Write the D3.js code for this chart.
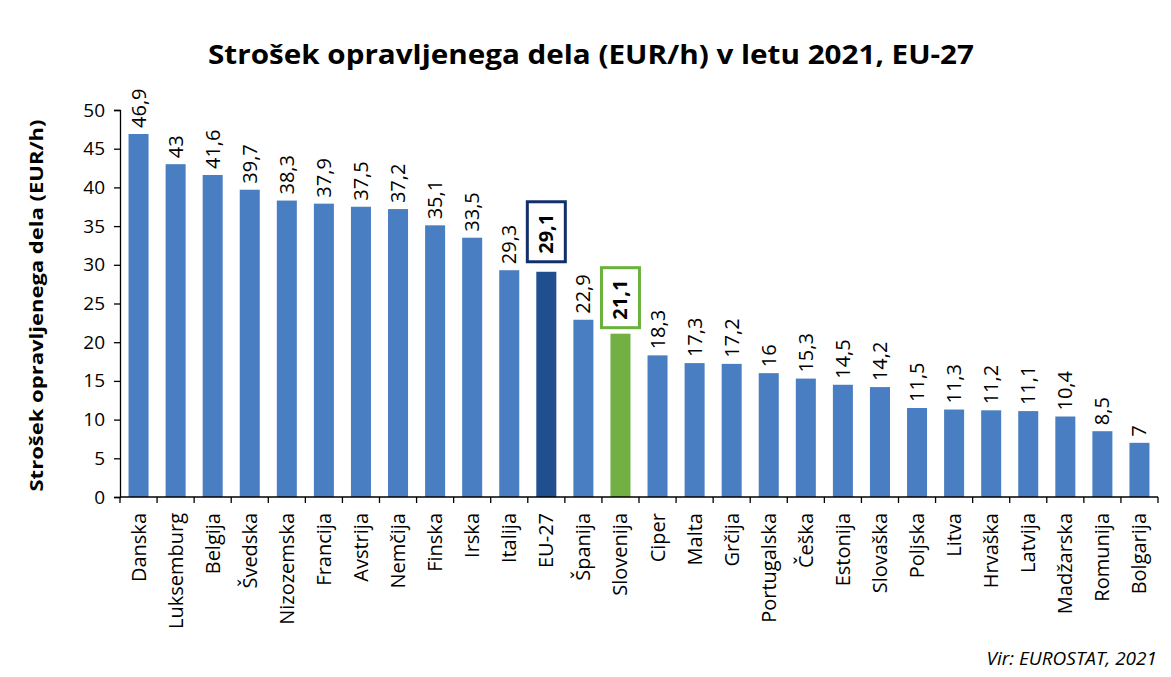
<!DOCTYPE html>
<html>
<head>
<meta charset="utf-8">
<script src="https://cdn.jsdelivr.net/npm/d3@7"></script>
<style>
  body { margin: 0; background: #fff; }
  text { font-family: "Open Sans", "Noto Sans", sans-serif; fill: #000; }
</style>
</head>
<body>
<div id="graph"></div>
<script>
//chart data
const countries = ["Danska", "Luksemburg", "Belgija", "Švedska", "Nizozemska", "Francija", "Avstrija",
    "Nemčija", "Finska", "Irska", "Italija", "EU-27", "Španija", "Slovenija", "Ciper", "Malta", "Grčija",
    "Portugalska", "Češka", "Estonija", "Slovaška", "Poljska", "Litva", "Hrvaška", "Latvija",
    "Madžarska", "Romunija", "Bolgarija"];
const costs = [46.9, 43, 41.6, 39.7, 38.3, 37.9, 37.5, 37.2, 35.1, 33.5, 29.3, 29.1, 22.9, 21.1, 18.3,
    17.3, 17.2, 16, 15.3, 14.5, 14.2, 11.5, 11.3, 11.2, 11.1, 10.4, 8.5, 7];
const yTicks = [0, 5, 10, 15, 20, 25, 30, 35, 40, 45, 50];

const width = 1171, height = 677;
const margin = {left: 120, right: 13, top: 110, bottom: 180};

const svg = d3.select("#graph").append("svg")
    .attr("width", width)
    .attr("height", height);

const x = d3.scaleBand()
    .domain(countries)
    .range([margin.left, width - margin.right])
    .paddingInner(0.46)
    .paddingOuter(0.23);

const y = d3.scaleLinear()
    .domain([0, 50])
    .range([height - margin.bottom, margin.top]);

//bar colours
function barColor(name){
    if (name === "EU-27") return "#1f4f8f";
    if (name === "Slovenija") return "#72b043";
    return "#4a7ec2";
}

function isSpecial(name){
    return name === "EU-27" || name === "Slovenija";
}

const rows = countries.map(function(c, i){ return {name: c, value: costs[i]}; });

//bars
svg.append("g").selectAll("rect")
    .data(rows)
    .enter().append("rect")
    .attr("x", function(d){ return x(d.name); })
    .attr("y", function(d){ return y(d.value); })
    .attr("width", x.bandwidth())
    .attr("height", function(d){ return y(0) - y(d.value); })
    .attr("fill", function(d){ return barColor(d.name); });

//y axis
const yAxis = svg.append("g")
    .attr("transform", "translate(" + margin.left + ",0)")
    .call(d3.axisLeft(y).tickValues(yTicks).tickSize(6).tickPadding(9));
yAxis.selectAll("text").style("font-size", "19px").attr("fill", "#222");
yAxis.selectAll("line, path").attr("stroke", "#000").attr("stroke-width", 1.3);

//x axis with ticks between categories
const step = x.step();
const xAxis = svg.append("g")
    .attr("transform", "translate(0," + y(0) + ")");
xAxis.append("line")
    .attr("x1", margin.left).attr("x2", width - margin.right)
    .attr("stroke", "#000").attr("stroke-width", 1.3);
xAxis.selectAll("line.tick")
    .data(d3.range(countries.length + 1))
    .enter().append("line")
    .attr("class", "tick")
    .attr("x1", function(i){ return margin.left + i * step; })
    .attr("x2", function(i){ return margin.left + i * step; })
    .attr("y1", 0).attr("y2", 6)
    .attr("stroke", "#000").attr("stroke-width", 1.3);

//category names
svg.append("g").selectAll("text")
    .data(rows)
    .enter().append("text")
    .attr("transform", function(d){
        return "translate(" + (x(d.name) + x.bandwidth() / 2) + "," + (y(0) + 16) + ") rotate(-90)";
    })
    .attr("dy", "0.35em")
    .attr("text-anchor", "end")
    .style("font-size", "20px")
    .text(function(d){ return d.name; });

//value labels
const labels = svg.append("g").selectAll("g")
    .data(rows)
    .enter().append("g")
    .attr("transform", function(d){
        const gap = d.name === "EU-27" ? 15 : (d.name === "Slovenija" ? 11 : 6);
        return "translate(" + (x(d.name) + x.bandwidth() / 2) + "," + (y(d.value) - gap) + ") rotate(-90)";
    });

//boxes round the highlighted labels
labels.filter(function(d){ return isSpecial(d.name); })
    .append("rect")
    .attr("x", -5)
    .attr("y", -19)
    .attr("width", 60)
    .attr("height", 38)
    .attr("fill", "#fff")
    .attr("stroke", function(d){ return d.name === "EU-27" ? "#132f6b" : "#6ab23c"; })
    .attr("stroke-width", 3);

labels.append("text")
    .attr("x", function(d){ return isSpecial(d.name) ? 3 : 0; })
    .attr("dy", "0.35em")
    .attr("text-anchor", "start")
    .style("font-size", "20px")
    .style("font-weight", function(d){ return isSpecial(d.name) ? "bold" : "normal"; })
    .text(function(d){ return String(d.value).replace(".", ","); });

//title
svg.append("text")
    .attr("x", 591)
    .attr("y", 64)
    .attr("text-anchor", "middle")
    .attr("textLength", 766)
    .attr("lengthAdjust", "spacingAndGlyphs")
    .style("font-size", "27px")
    .style("font-weight", "bold")
    .text("Strošek opravljenega dela (EUR/h) v letu 2021, EU-27");

//y axis title
svg.append("text")
    .attr("transform", "translate(43," + ((y(0) + y(50)) / 2 + 2) + ") rotate(-90)")
    .attr("text-anchor", "middle")
    .attr("textLength", 372)
    .attr("lengthAdjust", "spacingAndGlyphs")
    .style("font-size", "18px")
    .style("font-weight", "bold")
    .text("Strošek opravljenega dela (EUR/h)");

//source
svg.append("text")
    .attr("x", 1157)
    .attr("y", 665)
    .attr("text-anchor", "end")
    .style("font-size", "19px")
    .style("font-style", "italic")
    .attr("fill", "#222")
    .text("Vir: EUROSTAT, 2021");
</script>
</body>
</html>
